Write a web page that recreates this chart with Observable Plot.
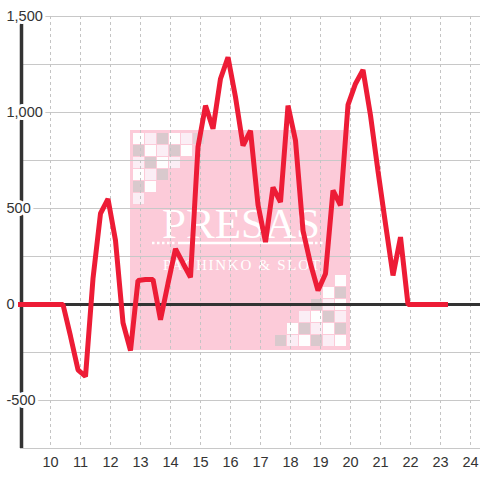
<!DOCTYPE html>
<html><head><meta charset="utf-8">
<script src="https://cdn.jsdelivr.net/npm/d3@7"></script>
<script src="https://cdn.jsdelivr.net/npm/@observablehq/plot@0.6"></script>
<style>
html,body{margin:0;padding:0;background:#fff;}
#wrap{position:relative;width:480px;height:480px;overflow:hidden;}
#wm{position:absolute;left:130px;top:130px;}
#chart{position:absolute;left:0;top:0;}
</style></head><body>
<div id="wrap">
<svg id="wm" width="220" height="220" xmlns="http://www.w3.org/2000/svg"></svg>
<div id="chart"></div>
</div>
<script>
// ---- data ----
const times = ["9:00","10:25","10:40","10:55","11:10","11:25","11:40","11:55","12:10","12:25","12:40","12:55",
  "13:10","13:25","13:40","13:55","14:10","14:25","14:40","14:55","15:10","15:25","15:40","15:55",
  "16:10","16:25","16:40","16:55","17:10","17:25","17:40","17:55","18:10","18:25","18:40","18:55",
  "19:10","19:25","19:40","19:55","20:10","20:25","20:40","20:55","21:10","21:25","21:40","21:55",
  "22:10","22:25","22:40","22:55","23:10"];
const values = [0,0,-165,-340,-375,135,474,550,333,-95,-240,125,
  130,130,-80,110,290,215,141,820,1036,915,1176,1288,
  1080,828,905,520,325,610,533,1036,854,385,212,73,
  160,594,516,1040,1150,1222,985,695,420,151,351,0,
  0,0,0,0,0];
const yTickValues = [1500,1000,500,0,-500];
const yTickLabels = ["1,500","1,000","500","0","-500"];
const yGrid = [1500,1250,1000,750,500,250,0,-250,-500,-750];
const xTicks = [10,11,12,13,14,15,16,17,18,19,20,21,22,23,24];
const xDomain = [9, 24.3333];
const yDomain = [-750, 1500];

const toHour = s => { const [h, m] = s.split(":").map(Number); return h + m / 60; };
const data = times.map((t, i) => ({x: toHour(t), y: values[i]}));

// ---- watermark (decorative logo image) ----
(function(){
  const ns = "http://www.w3.org/2000/svg";
  const svg = document.getElementById("wm");
  const add = (tag, attrs, txt) => { const e = document.createElementNS(ns, tag);
    for (const k in attrs) e.setAttribute(k, attrs[k]); if (txt) e.textContent = txt; svg.appendChild(e); return e; };
  const C = {W:"#fefefe", P:"#fbeef5", G:"#d9c9cd", L:"#e3cfd5"};
  add("rect",{x:0,y:0,width:220,height:220,fill:"#fccbd9"});
  const tl = ["WPGWPL","GWPGW","PGWP","WPG","GW","P"];
  tl.forEach((row, r) => [...row].forEach((c, j) =>
    add("rect",{x:3+12*j, y:3+12*r, width:11, height:11, fill:C[c]})));
  const br = ["W","WG","GPW","PWGP","WGPWG","GPWGPW"];
  br.forEach((row, r) => { const n = row.length; [...row].forEach((c, j) =>
    add("rect",{x:205-12*(n-1-j), y:145+12*r, width:11, height:11, fill:C[c]})); });
  add("text",{x:111, y:108, "text-anchor":"middle", fill:"#fff", "font-family":"'Liberation Serif','DejaVu Serif',serif",
    "font-size":42, textLength:158, lengthAdjust:"spacingAndGlyphs"}, "PRESAS");
  add("line",{x1:22, x2:46, y1:113, y2:113, stroke:"#fff", "stroke-width":2.5, "stroke-dasharray":"2.5,2.5"});
  add("line",{x1:48, x2:183, y1:113, y2:113, stroke:"#fff", "stroke-width":2.5});
  add("line",{x1:185, x2:194, y1:113, y2:113, stroke:"#fff", "stroke-width":2.5, "stroke-dasharray":"2.5,2.5"});
  add("text",{x:33, y:140, fill:"#fff", "font-family":"'Liberation Serif','DejaVu Serif',serif",
    "font-size":15, textLength:157, lengthAdjust:"spacing"}, "PACHINKO & SLOT");
})();

// ---- chart ----
const font = "'Liberation Sans', Arial, sans-serif";
const chart = Plot.plot({
  width: 480, height: 480,
  marginLeft: 20, marginRight: 0, marginTop: 16, marginBottom: 32,
  style: {background: "transparent", fontFamily: font, fontSize: "14.5px", color: "#333", overflow: "visible"},
  x: {domain: xDomain, ticks: xTicks, tickSize: 0, tickPadding: 8, tickFormat: d => String(d), label: null},
  y: {domain: yDomain, axis: null},
  marks: [
    Plot.ruleY(yGrid, {stroke: "#c8c8c8", strokeWidth: 1}),
    Plot.ruleX(xTicks, {stroke: "#c4c4c4", strokeWidth: 1, strokeDasharray: "3,3"}),
    Plot.ruleX([xDomain[0]], {stroke: "#333", strokeWidth: 3.5, dx: 1}),
    Plot.ruleY([0], {stroke: "#333", strokeWidth: 3}),
    Plot.text(yTickValues, {y: d => d, text: (d, i) => yTickLabels[i], frameAnchor: "left", textAnchor: "start",
      dx: -14, fill: "#fff", stroke: "#fff", strokeWidth: 6, fontSize: 14.5}),
    Plot.text(yTickValues, {y: d => d, text: (d, i) => yTickLabels[i], frameAnchor: "left", textAnchor: "start",
      dx: -14, fill: "#333", fontSize: 14.5}),
    Plot.line(data, {x: "x", y: "y", stroke: "#ed1c36", strokeWidth: 5,
      strokeLinejoin: "miter", strokeLinecap: "square"})
  ]
});
document.getElementById("chart").appendChild(chart);
</script>
</body></html>
